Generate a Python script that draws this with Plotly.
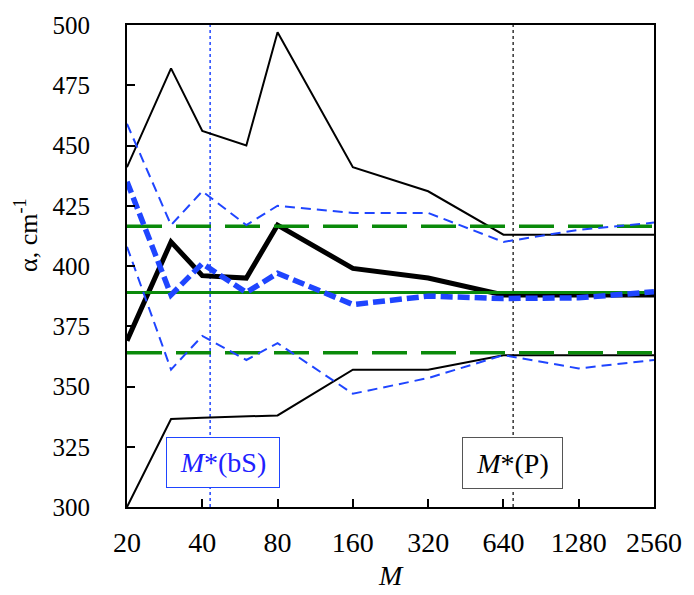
import plotly.graph_objects as go

M = [20, 30, 40, 60, 80, 160, 320, 640, 1280, 2560]
p_upper = [441, 482, 456, 450, 497, 441, 431, 413, 413, 413]
p_mean = [369, 410, 396, 395, 417, 399, 395, 388, 388, 388]
p_lower = [300, 336.5, 337, 337.5, 338, 357, 357, 363, 363, 363]
bs_upper = [459, 417, 431, 417, 425, 422, 422, 410, 415, 418]
bs_mean = [435, 388, 401, 389, 397, 384, 387.5, 386.5, 386.8, 389.3]
bs_lower = [408, 357, 371, 361, 368, 347, 353.5, 363, 357.5, 361]
ref_mean = 389
ref_upper = 416.5
ref_lower = 364
M_star_bS = 43
M_star_P = 700
xticks = [20, 40, 80, 160, 320, 640, 1280, 2560]
yticks = [300, 325, 350, 375, 400, 425, 450, 475, 500]

BLUE = "#1f45ff"
GREEN = "#0a8a0a"
FONT = "Liberation Serif"

fig = go.Figure()

# vertical markers
fig.add_trace(go.Scatter(x=[M_star_bS, M_star_bS], y=[300, 500], mode="lines",
                         line=dict(color=BLUE, width=1.5, dash="dot")))
fig.add_trace(go.Scatter(x=[M_star_P, M_star_P], y=[300, 500], mode="lines",
                         line=dict(color="#333333", width=1.5, dash="dot")))

fig.add_trace(go.Scatter(x=M, y=p_upper, mode="lines", line=dict(color="black", width=2)))
fig.add_trace(go.Scatter(x=M, y=p_lower, mode="lines", line=dict(color="black", width=2)))
fig.add_trace(go.Scatter(x=M, y=p_mean, mode="lines", line=dict(color="black", width=5)))

xs = [M[0], M[-1]]
fig.add_trace(go.Scatter(x=xs, y=[ref_mean] * 2, mode="lines", line=dict(color=GREEN, width=3)))
fig.add_trace(go.Scatter(x=xs, y=[ref_upper] * 2, mode="lines",
                         line=dict(color=GREEN, width=3.5, dash="35px,14px")))
fig.add_trace(go.Scatter(x=xs, y=[ref_lower] * 2, mode="lines",
                         line=dict(color=GREEN, width=3.5, dash="35px,14px")))

fig.add_trace(go.Scatter(x=M, y=bs_upper, mode="lines",
                         line=dict(color=BLUE, width=2, dash="10px,6px")))
fig.add_trace(go.Scatter(x=M, y=bs_lower, mode="lines",
                         line=dict(color=BLUE, width=2, dash="10px,6px")))
fig.add_trace(go.Scatter(x=M, y=bs_mean, mode="lines",
                         line=dict(color=BLUE, width=5.5, dash="12px,5px")))

fig.update_layout(
    width=694, height=595,
    margin=dict(l=127, r=32, t=21, b=88),
    plot_bgcolor="white", paper_bgcolor="white",
    showlegend=False,
    font=dict(family=FONT, color="black"),
    xaxis=dict(type="log", range=[1.30103, 3.40824], tickvals=xticks,
               ticktext=[str(v) for v in xticks], tickfont=dict(size=28),
               ticks="inside", ticklen=8, tickwidth=2, tickcolor="black",
               showline=True, linecolor="black", linewidth=2, mirror=True,
               showgrid=False, zeroline=False, ticklabelstandoff=9),
    yaxis=dict(range=[300, 500], tickvals=yticks, tickfont=dict(size=25),
               ticks="inside", ticklen=8, tickwidth=2, tickcolor="black",
               showline=True, linecolor="black", linewidth=2, mirror=True,
               showgrid=False, zeroline=False, ticklabelstandoff=30),
)

fig.add_annotation(text="<i>M</i>", xref="paper", yref="paper",
                   x=0.5, y=-0.143, xanchor="center", yanchor="middle", showarrow=False,
                   font=dict(size=28, family=FONT))

fig.add_annotation(text="α, cm<sup>-1</sup>", xref="paper", yref="paper",
                   x=-0.192, y=0.564, xanchor="center", yanchor="middle",
                   textangle=-90, showarrow=False,
                   font=dict(size=26, family=FONT))

fig.add_annotation(text="<i>M</i>*(bS)", xref="paper", yref="paper",
                   x=0.182, y=0.0916, xanchor="center", yanchor="middle",
                   showarrow=False, bgcolor="white", width=110, height=47,
                   bordercolor=BLUE, borderwidth=1, borderpad=1,
                   font=dict(size=28, family=FONT, color="#2020ff"))
fig.add_annotation(text="<i>M</i>*(P)", xref="paper", yref="paper",
                   x=0.731, y=0.091, xanchor="center", yanchor="middle",
                   showarrow=False, bgcolor="white", width=97, height=48,
                   bordercolor="#555555", borderwidth=1, borderpad=1,
                   font=dict(size=28, family=FONT, color="black"))

fig.write_html("out.html")
